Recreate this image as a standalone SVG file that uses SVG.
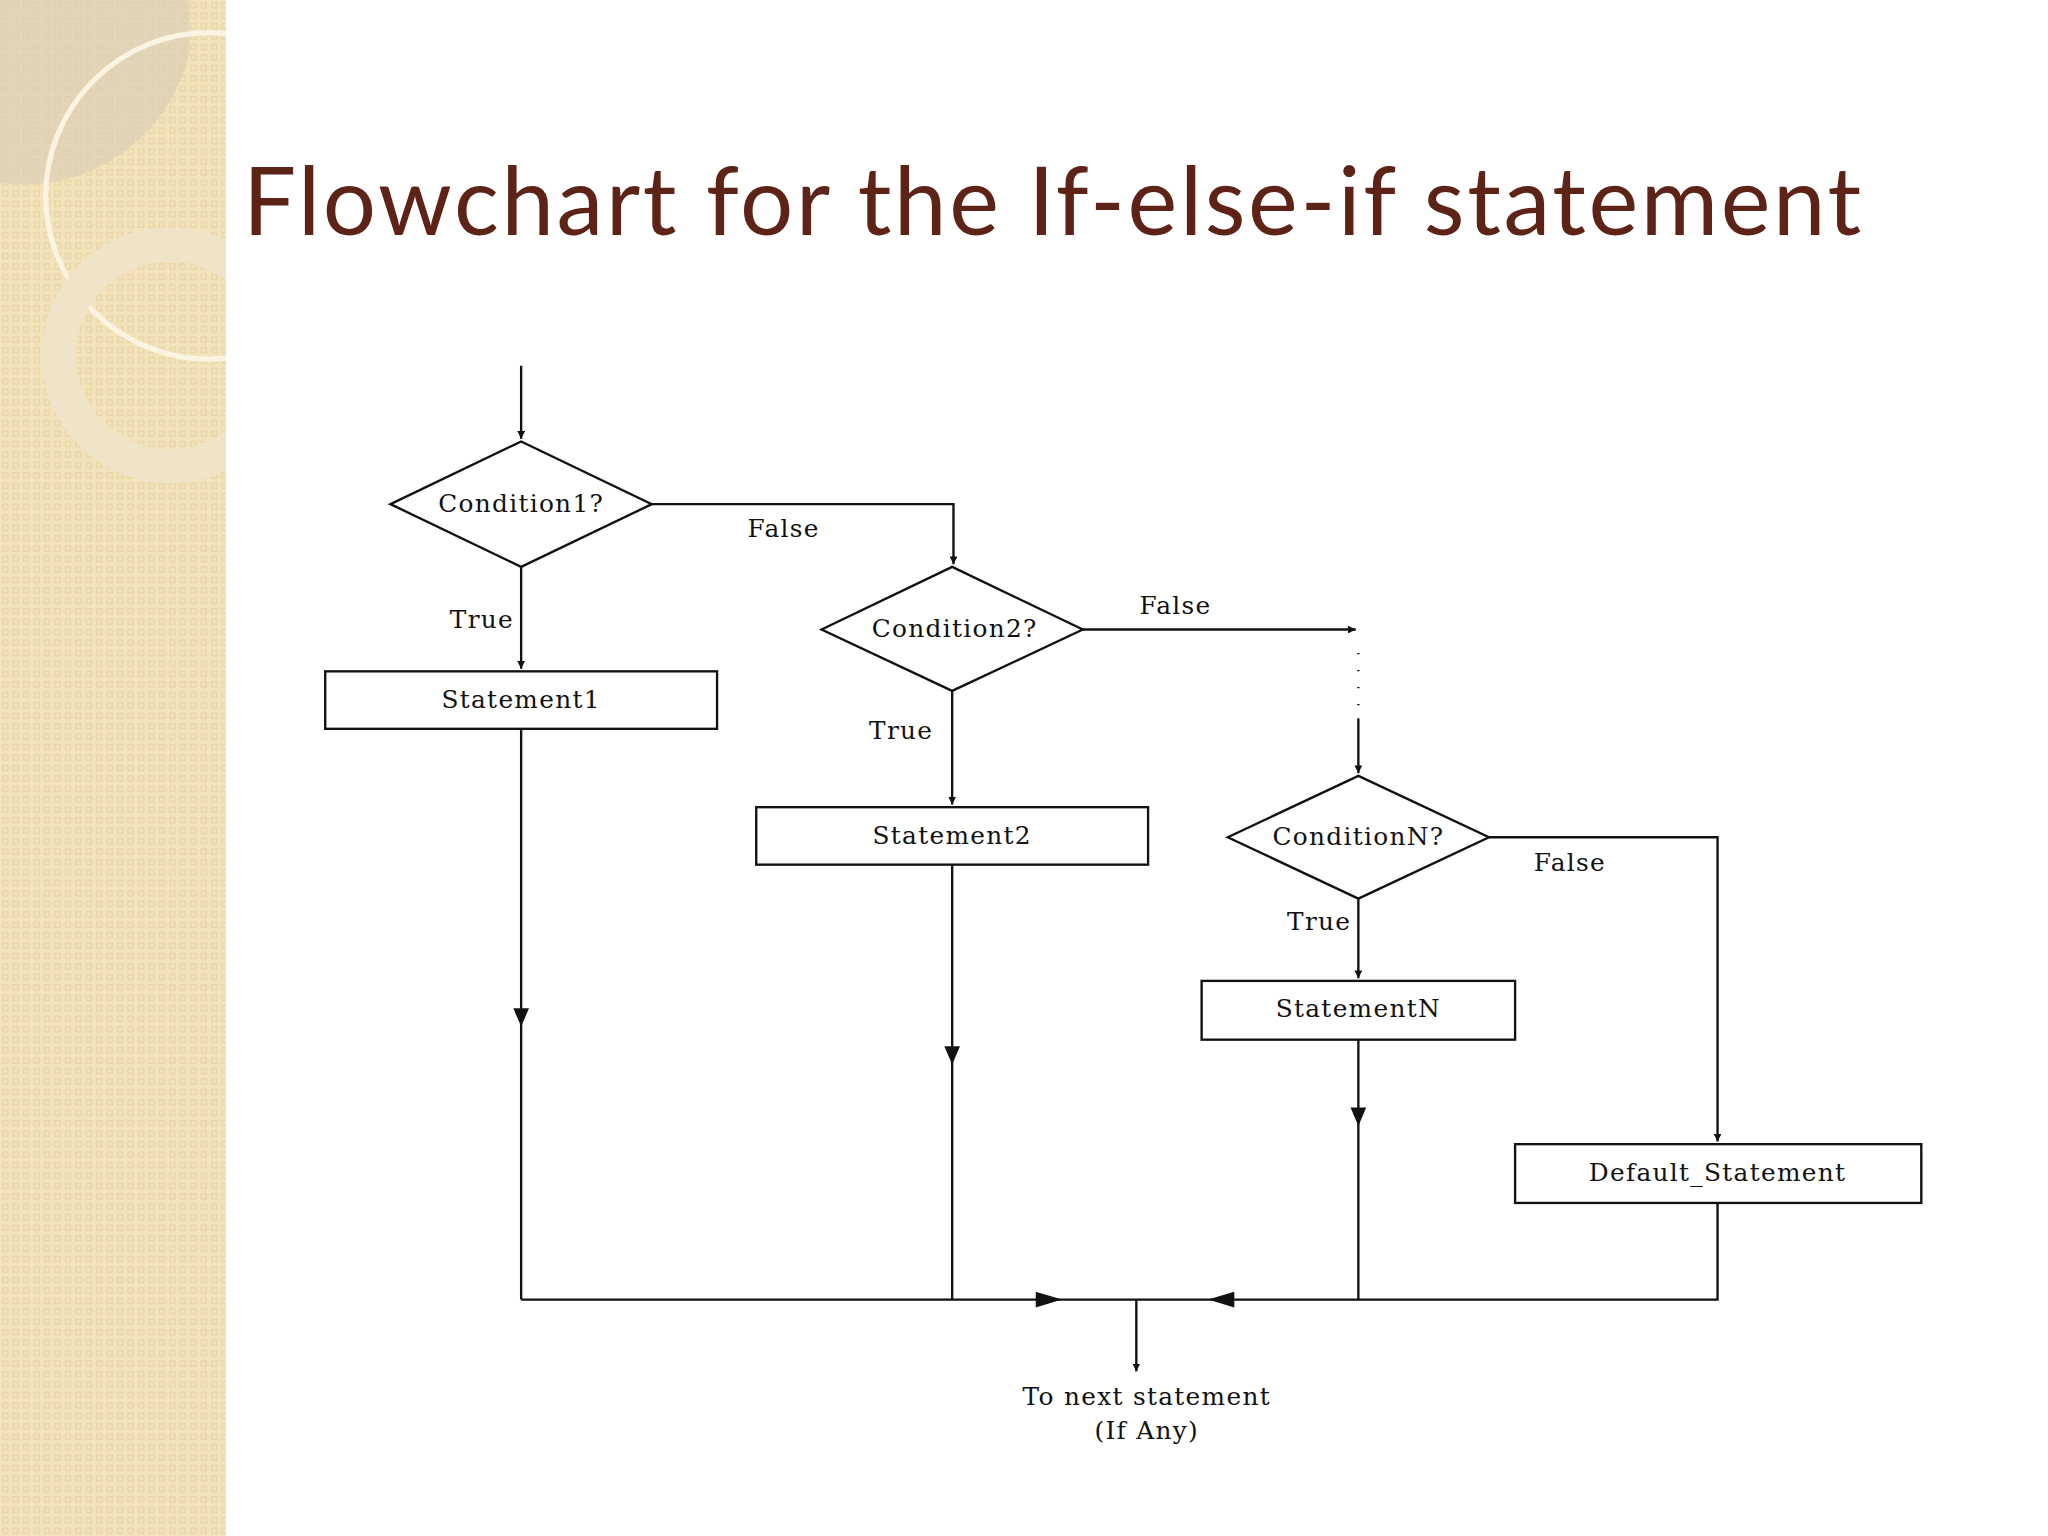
<svg xmlns="http://www.w3.org/2000/svg" width="2048" height="1536" viewBox="0 0 2048 1536">
<style>
.s{fill:none;stroke:#111;stroke-width:1.8}
.b{fill:#fff;stroke:#111;stroke-width:1.8}
.t{font-family:"DejaVu Serif",serif;font-size:19px;fill:#111;text-anchor:middle;letter-spacing:1px}
.a{fill:#111}
</style>
<defs>
<pattern id="p" width="8" height="8" patternUnits="userSpaceOnUse"><rect width="8" height="8" fill="#f3e3bb"/><rect x="2" y="2" width="4" height="4" fill="none" stroke="#e8d5a6" stroke-width="1"/></pattern>
<marker id="m" viewBox="0 0 10 10" refX="10" refY="5" markerWidth="6" markerHeight="6" orient="auto" markerUnits="userSpaceOnUse"><path d="M0,0L10,5L0,10z" fill="#111"/></marker>
</defs>
<rect width="2048" height="1536" fill="#fff"/>
<g transform="scale(1.30612)">
<rect width="173" height="1176" fill="url(#p)"/>
<path d="M0,0H145V40A130,130 0 0 1 0,140Z" fill="#d8cdb6" opacity="0.6"/>
<circle cx="160" cy="150" r="125" fill="none" stroke="#fbf4e2" stroke-width="4"/>
<circle cx="130" cy="272" r="85" fill="none" stroke="#efe4c8" stroke-width="26"/>
<rect x="173" width="1395" height="1176" fill="#fff"/>
<text x="186" y="180" font-family="Lato,'Open Sans',sans-serif" font-size="72" fill="#5c2316" textLength="1239">Flowchart for the If-else-if statement</text>

<g id="connectors">
<path class="s" d="M399,280V336" marker-end="url(#m)"/>
<path class="s" d="M499,386H730V432" marker-end="url(#m)"/>
<path class="s" d="M399,434V512" marker-end="url(#m)"/>
<path class="s" d="M399,558V995"/>
<path class="s" d="M829,482H1038" marker-end="url(#m)"/>
<path class="s" d="M1040,500V542" stroke-dasharray="1,12"/>
<path class="s" d="M1040,550V592" marker-end="url(#m)"/>
<path class="s" d="M729,529V616" marker-end="url(#m)"/>
<path class="s" d="M729,662V995"/>
<path class="s" d="M1140,641H1315V874" marker-end="url(#m)"/>
<path class="s" d="M1040,688V749" marker-end="url(#m)"/>
<path class="s" d="M1040,796V995"/>
<path class="s" d="M1315,921V995H399"/>
<path class="s" d="M870,995V1050" marker-end="url(#m)"/>
<path class="a" d="M393,772H405L399,786Z"/>
<path class="a" d="M723,801H735L729,815Z"/>
<path class="a" d="M1034,848H1046L1040,862Z"/>
<path class="a" d="M793,989V1001L813,995Z"/>
<path class="a" d="M945,989V1001L925,995Z"/>
<text class="t" x="600" y="411">False</text>
<text class="t" x="369" y="481">True</text>
<text class="t" x="900" y="470">False</text>
<text class="t" x="690" y="566">True</text>
<text class="t" x="1202" y="667">False</text>
<text class="t" x="1010" y="712">True</text>
</g>
<g id="c1"><polygon class="b" points="299,386 399,338 499,386 399,434"/><text class="t" x="399" y="392">Condition1?</text></g>
<g id="s1"><rect class="b" x="249" y="514" width="300" height="44"/><text class="t" x="399" y="542">Statement1</text></g>
<g id="c2"><polygon class="b" points="629,482 729,434 829,482 729,529"/><text class="t" x="731" y="488">Condition2?</text></g>
<g id="s2"><rect class="b" x="579" y="618" width="300" height="44"/><text class="t" x="729" y="646">Statement2</text></g>
<g id="cn"><polygon class="b" points="940,641 1040,594 1140,641 1040,688"/><text class="t" x="1040" y="647">ConditionN?</text></g>
<g id="sn"><rect class="b" x="920" y="751" width="240" height="45"/><text class="t" x="1040" y="779">StatementN</text></g>
<g id="sd"><rect class="b" x="1160" y="876" width="311" height="45"/><text class="t" x="1315" y="904">Default_Statement</text></g>
<g id="end"><text class="t" x="878" y="1076">To next statement</text><text class="t" x="878" y="1102">(If Any)</text></g>
</g>
</svg>
